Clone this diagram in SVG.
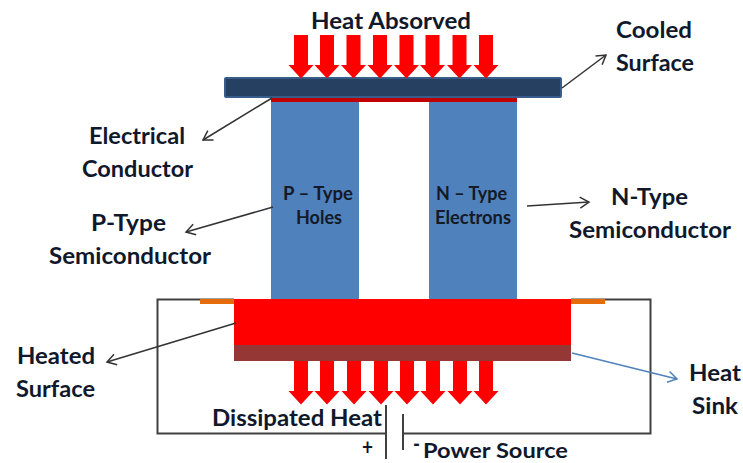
<svg xmlns="http://www.w3.org/2000/svg" width="743" height="463" viewBox="0 0 743 463">
<style>
text{font-family:Lato,"Liberation Sans",sans-serif;font-size:22px;font-weight:700;fill:#10182c}
.s{font-size:18px;fill:#141a26}
.c{fill:none;stroke:#333;stroke-width:1.5}
.w{fill:none;stroke:#404040;stroke-width:2}
.red{fill:#f00}
</style>
<defs>
<marker id="ah" markerUnits="userSpaceOnUse" markerWidth="14" markerHeight="14" refX="12" refY="7" orient="auto"><path d="M3 1.5L12 7L3 12.5" fill="none" stroke="#333" stroke-width="1.5"/></marker>
<marker id="ab" markerUnits="userSpaceOnUse" markerWidth="14" markerHeight="14" refX="12" refY="7" orient="auto"><path d="M3 1.5L12 7L3 12.5" fill="none" stroke="#4f81bd" stroke-width="1.5"/></marker>
<path id="down" class="red" d="M-7 0H7V30H12.500L0 43.500L-12.500 30H-7Z"/>
</defs>
<rect width="743" height="463" fill="#fff"/>
<g id="circuit">
<path class="w" d="M234 299.500H157.500V433.500H386M403 433.500H650.500V299.500H571"/>
<path class="w" d="M386 405V459M403 414V450"/>
</g>
<g id="p-type"><rect x="271" y="102" width="88" height="197" fill="#4f81bd"/><text class="s" x="283" y="200" textLength="70" lengthAdjust="spacingAndGlyphs">P – Type</text><text class="s" x="296" y="224" textLength="46" lengthAdjust="spacingAndGlyphs">Holes</text></g>
<g id="n-type"><rect x="429" y="102" width="88" height="197" fill="#4f81bd"/><text class="s" x="436" y="200" textLength="71" lengthAdjust="spacingAndGlyphs">N – Type</text><text class="s" x="435" y="224" textLength="76" lengthAdjust="spacingAndGlyphs">Electrons</text></g>
<g id="conductor"><rect x="271" y="97" width="246" height="5" fill="#c00000"/></g>
<g id="cooled-plate"><rect x="225" y="78" width="336" height="19" rx="1" fill="#254061" stroke="#385d8a" stroke-width="2"/></g>
<g id="heated-plate"><rect x="234" y="299" width="337" height="46" fill="#f00"/></g>
<g id="heat-sink"><rect x="234" y="345" width="337" height="16" fill="#953735"/></g>
<g id="contacts"><rect x="200" y="299" width="34" height="5" fill="#e46c0a"/><rect x="571" y="299" width="34" height="5" fill="#e46c0a"/></g>
<g id="heat-in">
<use href="#down" x="301" y="35"/><use href="#down" x="327" y="35"/><use href="#down" x="353.500" y="35"/><use href="#down" x="380" y="35"/><use href="#down" x="406.500" y="35"/><use href="#down" x="432.500" y="35"/><use href="#down" x="459.500" y="35"/><use href="#down" x="486" y="35"/>
</g>
<g id="heat-out">
<use href="#down" x="301" y="361"/><use href="#down" x="327" y="361"/><use href="#down" x="354" y="361"/><use href="#down" x="381" y="361"/><use href="#down" x="407" y="361"/><use href="#down" x="433" y="361"/><use href="#down" x="460" y="361"/><use href="#down" x="486" y="361"/>
</g>
<g id="connectors">
<path class="c" marker-end="url(#ah)" d="M562 88L606 55"/>
<path class="c" marker-end="url(#ah)" d="M272 98L203 140"/>
<path class="c" marker-end="url(#ah)" d="M273 207L186 232"/>
<path class="c" marker-end="url(#ah)" d="M527 206L589 202"/>
<path class="c" marker-end="url(#ah)" d="M236 323L107 362"/>
<path fill="none" stroke="#4f81bd" stroke-width="1.500" marker-end="url(#ab)" d="M572 353L677 379"/>
</g>
<g id="labels">
<text x="311" y="29" textLength="160" lengthAdjust="spacingAndGlyphs">Heat Absorved</text>
<text x="616" y="38" textLength="76" lengthAdjust="spacingAndGlyphs">Cooled</text><text x="616" y="71" textLength="78" lengthAdjust="spacingAndGlyphs">Surface</text>
<text x="89" y="144" textLength="96" lengthAdjust="spacingAndGlyphs">Electrical</text><text x="82" y="177" textLength="111" lengthAdjust="spacingAndGlyphs">Conductor</text>
<text x="91" y="231" textLength="75" lengthAdjust="spacingAndGlyphs">P-Type</text><text x="49" y="264" textLength="162" lengthAdjust="spacingAndGlyphs">Semiconductor</text>
<text x="611" y="205" textLength="77" lengthAdjust="spacingAndGlyphs">N-Type</text><text x="569" y="238" textLength="162" lengthAdjust="spacingAndGlyphs">Semiconductor</text>
<text x="17" y="364" textLength="78" lengthAdjust="spacingAndGlyphs">Heated</text><text x="16" y="397" textLength="79" lengthAdjust="spacingAndGlyphs">Surface</text>
<text x="689" y="381" textLength="52" lengthAdjust="spacingAndGlyphs">Heat</text><text x="692" y="414" textLength="46" lengthAdjust="spacingAndGlyphs">Sink</text>
<text x="212" y="426" textLength="170" lengthAdjust="spacingAndGlyphs">Dissipated Heat</text>
<text x="362" y="455" textLength="11" lengthAdjust="spacingAndGlyphs">+</text>
<text x="413" y="452" textLength="7" lengthAdjust="spacingAndGlyphs">-</text>
<text x="423" y="458" style="font-size:21px" textLength="145" lengthAdjust="spacingAndGlyphs">Power Source</text>
</g>
</svg>
